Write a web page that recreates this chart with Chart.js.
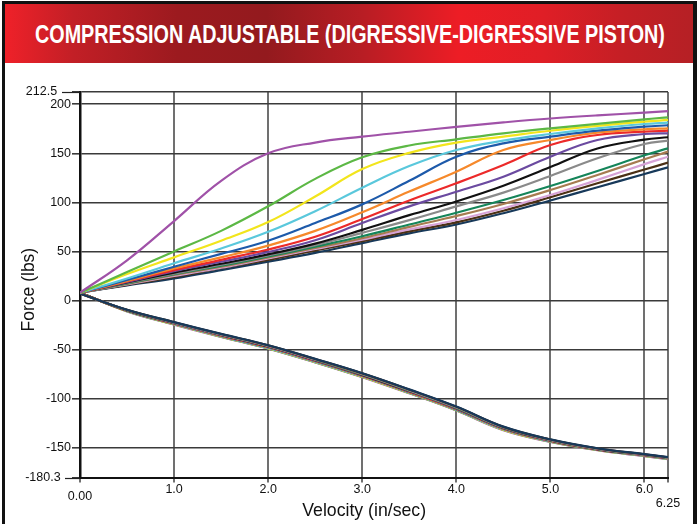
<!DOCTYPE html>
<html>
<head>
<meta charset="utf-8">
<script src="https://cdn.jsdelivr.net/npm/chart.js@4.4.1/dist/chart.umd.min.js"></script>
<style>
  html, body { margin: 0; padding: 0; background: #fff; }
  #page { position: relative; width: 700px; height: 524px; overflow: hidden; }
  #frame { position: absolute; left: 2px; top: 1px; width: 695px; height: 530px;
           border-style: solid; border-color: #111; border-width: 3px 4px 0 3px; box-sizing: border-box; }
  #banner { position: absolute; left: 5px; top: 4px; width: 688px; height: 59px; overflow: hidden;
            background: linear-gradient(to right, #ef2129 0%, #c21f26 10%, #9c1a1f 25%, #931a1e 38%, #b81d24 52%, #ed1d25 66%, #e01e26 78%, #c41f25 90%, #b52025 100%); }
  #titleText { position: absolute; left: 30px; top: 1px; height: 59px; line-height: 59px;
               color: #fff; font-family: "Liberation Sans", Arial, sans-serif;
               font-weight: bold; font-size: 25.5px; white-space: nowrap; transform-origin: 0 50%; }
  #wrap { position: absolute; left: 5px; top: 63px; width: 688px; height: 461px; }
</style>
</head>
<body>
<div id="page">
  <div id="frame"></div>
  <div id="banner"><span id="titleText">COMPRESSION ADJUSTABLE (DIGRESSIVE-DIGRESSIVE PISTON)</span></div>
  <div id="wrap"><canvas id="chart" width="688" height="461"></canvas></div>
</div>
<script>
// velocity (in/sec) sample points
const velocity = [0, 0.5, 1, 1.5, 2, 2.5, 3, 3.5, 4, 4.5, 5, 5.5, 6, 6.25]

const xTicks = [0, 1, 2, 3, 4, 5, 6, 6.25]
const xTickLabels = ["0.00", "1.0", "2.0", "3.0", "4.0", "5.0", "6.0", "6.25"]
const yTicks = [212.5, 200, 150, 100, 50, 0, -50, -100, -150, -180.3]
const yTickLabels = ["212.5", "200", "150", "100", "50", "0", "-50", "-100", "-150", "-180.3"]

const colors = ["#a052a8", "#5cb845", "#f2e51c", "#5ac8dc", "#1d5aaa", "#f6892b", "#ec2a2a", "#6b4aa0",
                "#111111", "#8a8a8a", "#15855a", "#a67b50", "#d6a2d6", "#4b3015", "#17395a"]

// compression force (lbs), one row per clicker setting
const compPurple  = [8, 41, 81, 122, 150, 161, 167, 172, 177, 181.5, 185.5, 188.7, 191.4, 193]
const compGreen   = [8, 29, 50, 71, 96, 124, 146, 158, 164.3, 170.4, 175.5, 180, 184.7, 186.7]
const compYellow  = [8, 27, 44, 61, 80, 106, 134, 150.5, 161, 167, 173, 178, 182.3, 184]
const compCyan    = [8, 22.5, 38, 53, 70, 91, 115, 137, 153.4, 162.9, 169.7, 175.5, 179.9, 181.3]
const compBlue    = [8, 21, 34.5, 47.5, 61, 79, 98, 122, 146.6, 160.2, 167, 173.1, 177.2, 178.6]
const compOrange  = [8, 20, 32.8, 44, 56, 71, 90, 111, 131.3, 153.4, 163.6, 171.1, 174.5, 175.5]
const compRed     = [8, 19.5, 31, 41.5, 52, 65, 83, 102, 119.5, 138.1, 158.5, 168.7, 172.1, 173.1]
const compViolet  = [8, 19, 30, 39.5, 49.5, 61.5, 79, 96, 110.9, 126.2, 146.6, 163.6, 169.7, 170.4]
const compBlack   = [8, 18.5, 28.4, 37.5, 47, 58, 72, 87, 101, 117, 136, 155, 164, 166.4]
const compGray    = [8, 18, 27.5, 36.5, 46, 56.5, 69, 82, 96, 110, 127, 145, 159.5, 162.9]
const compDkGreen = [8, 17.5, 27, 35.5, 45, 55, 65.5, 77.5, 89.5, 102.4, 116.7, 132, 148, 155.1]
const compTan     = [8, 17, 26, 34.5, 44, 53.5, 63.5, 75, 86.1, 98.4, 112.6, 128, 144, 151.7]
const compLilac   = [8, 16.5, 25, 33.5, 43, 52.5, 62, 72.5, 82.1, 94, 107.5, 123, 139, 146.6]
const compBrown   = [8, 16, 24, 33, 41.5, 51, 60.5, 70.5, 79.7, 91.5, 105.2, 119.5, 133.5, 140.5]
const compNavy    = [8, 15.5, 22.6, 31, 39.6, 48.5, 58.5, 68.5, 77.5, 89, 102, 115.5, 129, 135.8]

// rebound force (lbs)
const rebPurple  = [8, -11, -24.5, -37, -49, -63, -78, -94.5, -112, -132, -144, -152.5, -158.5, -161.5]
const rebGreen   = [8, -10.8, -24.2, -36.7, -48.7, -62.7, -77.7, -94.2, -111.7, -131.7, -143.8, -152.3, -158.3, -161.3]
const rebYellow  = [8, -10.6, -24, -36.5, -48.5, -62.5, -77.5, -94, -111.5, -131.5, -143.6, -152.2, -158.2, -161.2]
const rebCyan    = [8, -10.5, -23.8, -36.2, -48.2, -62.2, -77.2, -93.7, -111.2, -131.2, -143.4, -152, -158, -161]
const rebBlue    = [8, -10.4, -23.6, -36, -47.9, -61.9, -76.9, -93.4, -110.9, -130.9, -143.2, -151.9, -157.9, -160.9]
const rebOrange  = [7.8, -10.3, -23.4, -35.7, -47.6, -61.6, -76.6, -93.1, -110.6, -130.6, -143, -151.8, -157.8, -160.8]
const rebRed     = [7.8, -10.2, -23.2, -35.5, -47.3, -61.3, -76.3, -92.8, -110.3, -130.3, -142.8, -151.6, -157.6, -160.6]
const rebViolet  = [7.6, -10.1, -23, -35.2, -47, -61, -76, -92.5, -110, -130, -142.6, -151.5, -157.5, -160.5]
const rebBlack   = [7.6, -10, -22.9, -35, -46.8, -60.7, -75.7, -92.2, -109.7, -129.7, -142.4, -151.3, -157.3, -160.3]
const rebGray    = [7.5, -9.9, -22.7, -34.8, -46.5, -60.4, -75.4, -91.9, -109.4, -129.5, -142.2, -151.2, -157.2, -160.2]
const rebDkGreen = [7.4, -9.8, -22.6, -34.6, -46.3, -60.2, -75.1, -91.6, -109.1, -129.3, -142, -151.1, -157.1, -160.1]
const rebTan     = [7.3, -9.7, -22.4, -34.4, -46, -60, -74.8, -91.3, -108.8, -129.1, -141.9, -151, -157, -160]
const rebLilac   = [7.2, -9.6, -22.3, -34.3, -45.9, -59.8, -74.5, -91, -108.5, -128.9, -141.8, -150.8, -156.8, -159.9]
const rebBrown   = [7.1, -9.5, -22.1, -34.1, -45.7, -59.6, -74.2, -90.8, -108.3, -128.7, -141.6, -150.7, -156.7, -159.7]
const rebNavy    = [7, -9.4, -22, -34, -45.5, -59.4, -74, -90.5, -108, -128.5, -141.5, -150.5, -156.5, -159.5]

const compSeries = [compPurple, compGreen, compYellow, compCyan, compBlue, compOrange, compRed, compViolet,
                    compBlack, compGray, compDkGreen, compTan, compLilac, compBrown, compNavy]
const rebSeries = [rebPurple, rebGreen, rebYellow, rebCyan, rebBlue, rebOrange, rebRed, rebViolet,
                   rebBlack, rebGray, rebDkGreen, rebTan, rebLilac, rebBrown, rebNavy]

const FONT = '"Liberation Sans", Arial, sans-serif'

// squeeze the banner title to the width it has in the original
const tt = document.getElementById("titleText")
tt.style.transform = "scaleX(" + (630 / tt.offsetWidth) + ")"

const toPoints = arr => arr.map((f, i) => ({ x: velocity[i], y: f }))

const datasets = []
compSeries.forEach((s, i) => {
    datasets.push({ data: toPoints(s), borderColor: colors[i], order: 20 + i })
})
rebSeries.forEach((s, i) => {
    datasets.push({ data: toPoints(s), borderColor: colors[i], order: 60 - i })
})

// longer tick marks for the two end values on the force axis
const endTicks = {
    id: "endTicks",
    afterDraw(chart) {
        const y = chart.scales.y
        const ctx = chart.ctx
        ctx.save()
        ctx.strokeStyle = "#222"
        ctx.lineWidth = 1.2
        ;[yTicks[0], yTicks[yTicks.length - 1]].forEach((v, k) => {
            const py = Math.round(y.getPixelForValue(v)) + 0.5
            ctx.beginPath()
            ctx.moveTo(y.right - (k == 0 ? 18 : 15), py)
            ctx.lineTo(y.right, py)
            ctx.stroke()
        })
        ctx.restore()
    }
}

new Chart(document.getElementById("chart"), {
    type: "line",
    data: { datasets: datasets },
    plugins: [endTicks],
    options: {
        responsive: false,
        animation: false,
        layout: { padding: { left: 0, top: 29, right: 25, bottom: 0 } },
        plugins: { legend: { display: false }, tooltip: { enabled: false } },
        elements: {
            point: { radius: 0 },
            line: { borderWidth: 2.2, tension: 0.4, fill: false }
        },
        scales: {
            x: {
                type: "linear",
                min: 0, max: 6.25,
                afterBuildTicks: s => { s.ticks = xTicks.map(v => ({ value: v })) },
                afterFit: s => { s.height = 46.5 },
                ticks: {
                    color: "#111",
                    padding: 0,
                    maxRotation: 0,
                    autoSkip: false,
                    font: ctx => {
                        const v = ctx.tick ? ctx.tick.value : 1
                        let lh = 1.2
                        if (v == 0) lh = 2.3
                        else if (v == 6.25) lh = 3.4
                        return { family: FONT, size: 12.5, lineHeight: lh }
                    },
                    callback: v => xTickLabels[xTicks.indexOf(v)]
                },
                grid: { color: "#707070", lineWidth: 2, tickLength: 5 },
                border: { color: "#111", width: 2 },
                title: {
                    display: true, text: "Velocity (in/sec)    ", color: "#111",
                    font: { family: FONT, size: 17.7 }, padding: { top: 0, bottom: 2 }
                }
            },
            y: {
                min: -180.3, max: 212.5,
                afterBuildTicks: s => { s.ticks = yTicks.map(v => ({ value: v })) },
                afterFit: s => { s.width = 75 },
                ticks: {
                    color: "#111",
                    padding: 1,
                    autoSkip: false,
                    font: { family: FONT, size: 12.5 },
                    callback: v => {
                        const i = yTicks.indexOf(v)
                        if (i == 0) return yTickLabels[i] + "    "
                        if (i == yTicks.length - 1) return yTickLabels[i] + "   "
                        return yTickLabels[i]
                    }
                },
                grid: { color: "#3a3a3a", lineWidth: 1.6, tickLength: 8 },
                border: { color: "#111", width: 2.5 },
                title: {
                    display: true, text: "Force (lbs)  ", color: "#111",
                    font: { family: FONT, size: 17.5 }, padding: { top: 14, bottom: 0 }
                }
            }
        }
    }
})
</script>
</body>
</html>
